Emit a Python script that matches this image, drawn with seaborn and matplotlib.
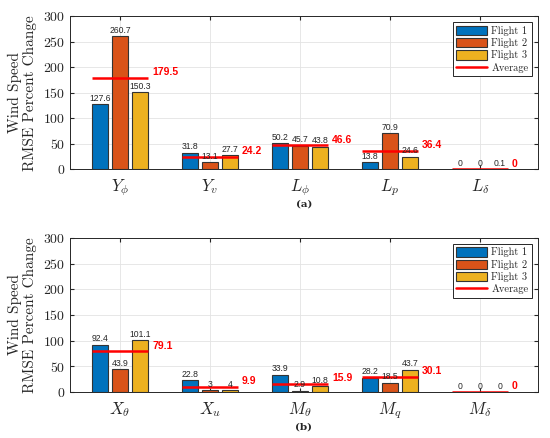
import matplotlib.pyplot as plt
import numpy as np
import pandas as pd
import seaborn as sns

# panel (a) lateral parameters
params_a = [r'$Y_\phi$', r'$Y_v$', r'$L_\phi$', r'$L_p$', r'$L_\delta$']
flight1_a = [127.6, 31.8, 50.2, 13.8, 0]
flight2_a = [260.7, 13.1, 45.7, 70.9, 0]
flight3_a = [150.3, 27.7, 43.8, 24.6, 0.1]
avg_a = [179.5, 24.2, 46.6, 36.4, 0]

# panel (b) longitudinal parameters
params_b = [r'$X_\theta$', r'$X_u$', r'$M_\theta$', r'$M_q$', r'$M_\delta$']
flight1_b = [92.4, 22.8, 33.9, 28.2, 0]
flight2_b = [43.9, 3, 2.9, 18.5, 0]
flight3_b = [101.1, 4, 10.8, 43.7, 0]
avg_b = [79.1, 9.9, 15.9, 30.1, 0]

flights = ['Flight 1', 'Flight 2', 'Flight 3']
colors = ['#0072BD', '#D95319', '#EDB120']

sns.set_style("whitegrid")
plt.rcParams['font.family'] = ['cmr10']
plt.rcParams['mathtext.fontset'] = 'cm'
plt.rcParams['axes.formatter.use_mathtext'] = True

GROUP_W = 0.667
GAP = 0.2


def long_df(params, f1, f2, f3):
    rows = []
    for name, vals in zip(flights, [f1, f2, f3]):
        for p, v in zip(params, vals):
            rows.append({'param': p, 'flight': name, 'value': v})
    return pd.DataFrame(rows)


def draw_panel(ax, params, f1, f2, f3, avg, tag):
    df = long_df(params, f1, f2, f3)
    sns.barplot(data=df, x='param', y='value', hue='flight', palette=colors,
                saturation=1, width=GROUP_W, gap=GAP, edgecolor='#333333',
                linewidth=0.8, errorbar=None, legend=False, ax=ax, zorder=3)
    # value labels above bars
    for cont in ax.containers:
        for bar in cont:
            h = bar.get_height()
            ax.annotate(f'{h:g}', (bar.get_x() + bar.get_width() / 2, h),
                        xytext=(0, 1), textcoords='offset points',
                        ha='center', va='bottom', fontsize=6.2,
                        family='Liberation Sans', color='#262626', zorder=5)
    # average lines
    slot = GROUP_W / 3
    half = slot + slot * (1 - GAP) / 2
    xs = np.arange(len(params))
    ax.hlines(avg, xs - half, xs + half, colors='#FF0000', linewidth=1.8,
              zorder=4, label='Average')
    for x, a in zip(xs, avg):
        ax.annotate(f'{a:g}', (x + half, a), xytext=(3, 4),
                    textcoords='offset points', ha='left', va='center',
                    fontsize=7.5, fontweight='bold', family='Liberation Sans',
                    color='#FF0000', zorder=5)

    ax.set_ylim(0, 300)
    ax.set_yticks(np.arange(0, 301, 50))
    ax.set_xlim(-0.556, len(params) - 1 + 0.644)
    ax.set_xlabel('')
    ax.set_ylabel('Wind Speed\nRMSE Percent Change', fontsize=11,
                  linespacing=1.1, labelpad=4)
    ax.tick_params(axis='y', labelsize=10, direction='in', length=3,
                   right=True, left=True, color='#262626')
    ax.tick_params(axis='x', labelsize=12, direction='in', length=3,
                   top=True, bottom=True, color='#262626', pad=6)
    ax.grid(True, color='#e3e3e3', linewidth=0.6, zorder=0)
    ax.set_axisbelow(True)
    for sp in ax.spines.values():
        sp.set_visible(True)
        sp.set_color('#262626')
        sp.set_linewidth(0.7)

    handles = list(ax.containers)
    line = plt.Line2D([], [], color='#FF0000', linewidth=1.8)
    leg = ax.legend(handles + [line], flights + ['Average'], loc='upper right',
                    fontsize=7.5, fancybox=False, framealpha=1,
                    edgecolor='#262626', handlelength=3.0, handleheight=1.0,
                    labelspacing=0.2, borderpad=0.3, handletextpad=0.4,
                    borderaxespad=0.6)
    leg.get_frame().set_linewidth(0.7)
    ax.text(0.5, -0.2, tag, transform=ax.transAxes, ha='center', va='top',
            fontsize=7.5, fontweight='bold', family='DejaVu Serif')


fig = plt.figure(figsize=(5.5, 4.38), dpi=100)
ax1 = fig.add_axes([0.127, 0.614, 0.851, 0.349])
ax2 = fig.add_axes([0.127, 0.105, 0.851, 0.352])
draw_panel(ax1, params_a, flight1_a, flight2_a, flight3_a, avg_a, '(a)')
draw_panel(ax2, params_b, flight1_b, flight2_b, flight3_b, avg_b, '(b)')

fig.savefig('out.png', dpi=100)
